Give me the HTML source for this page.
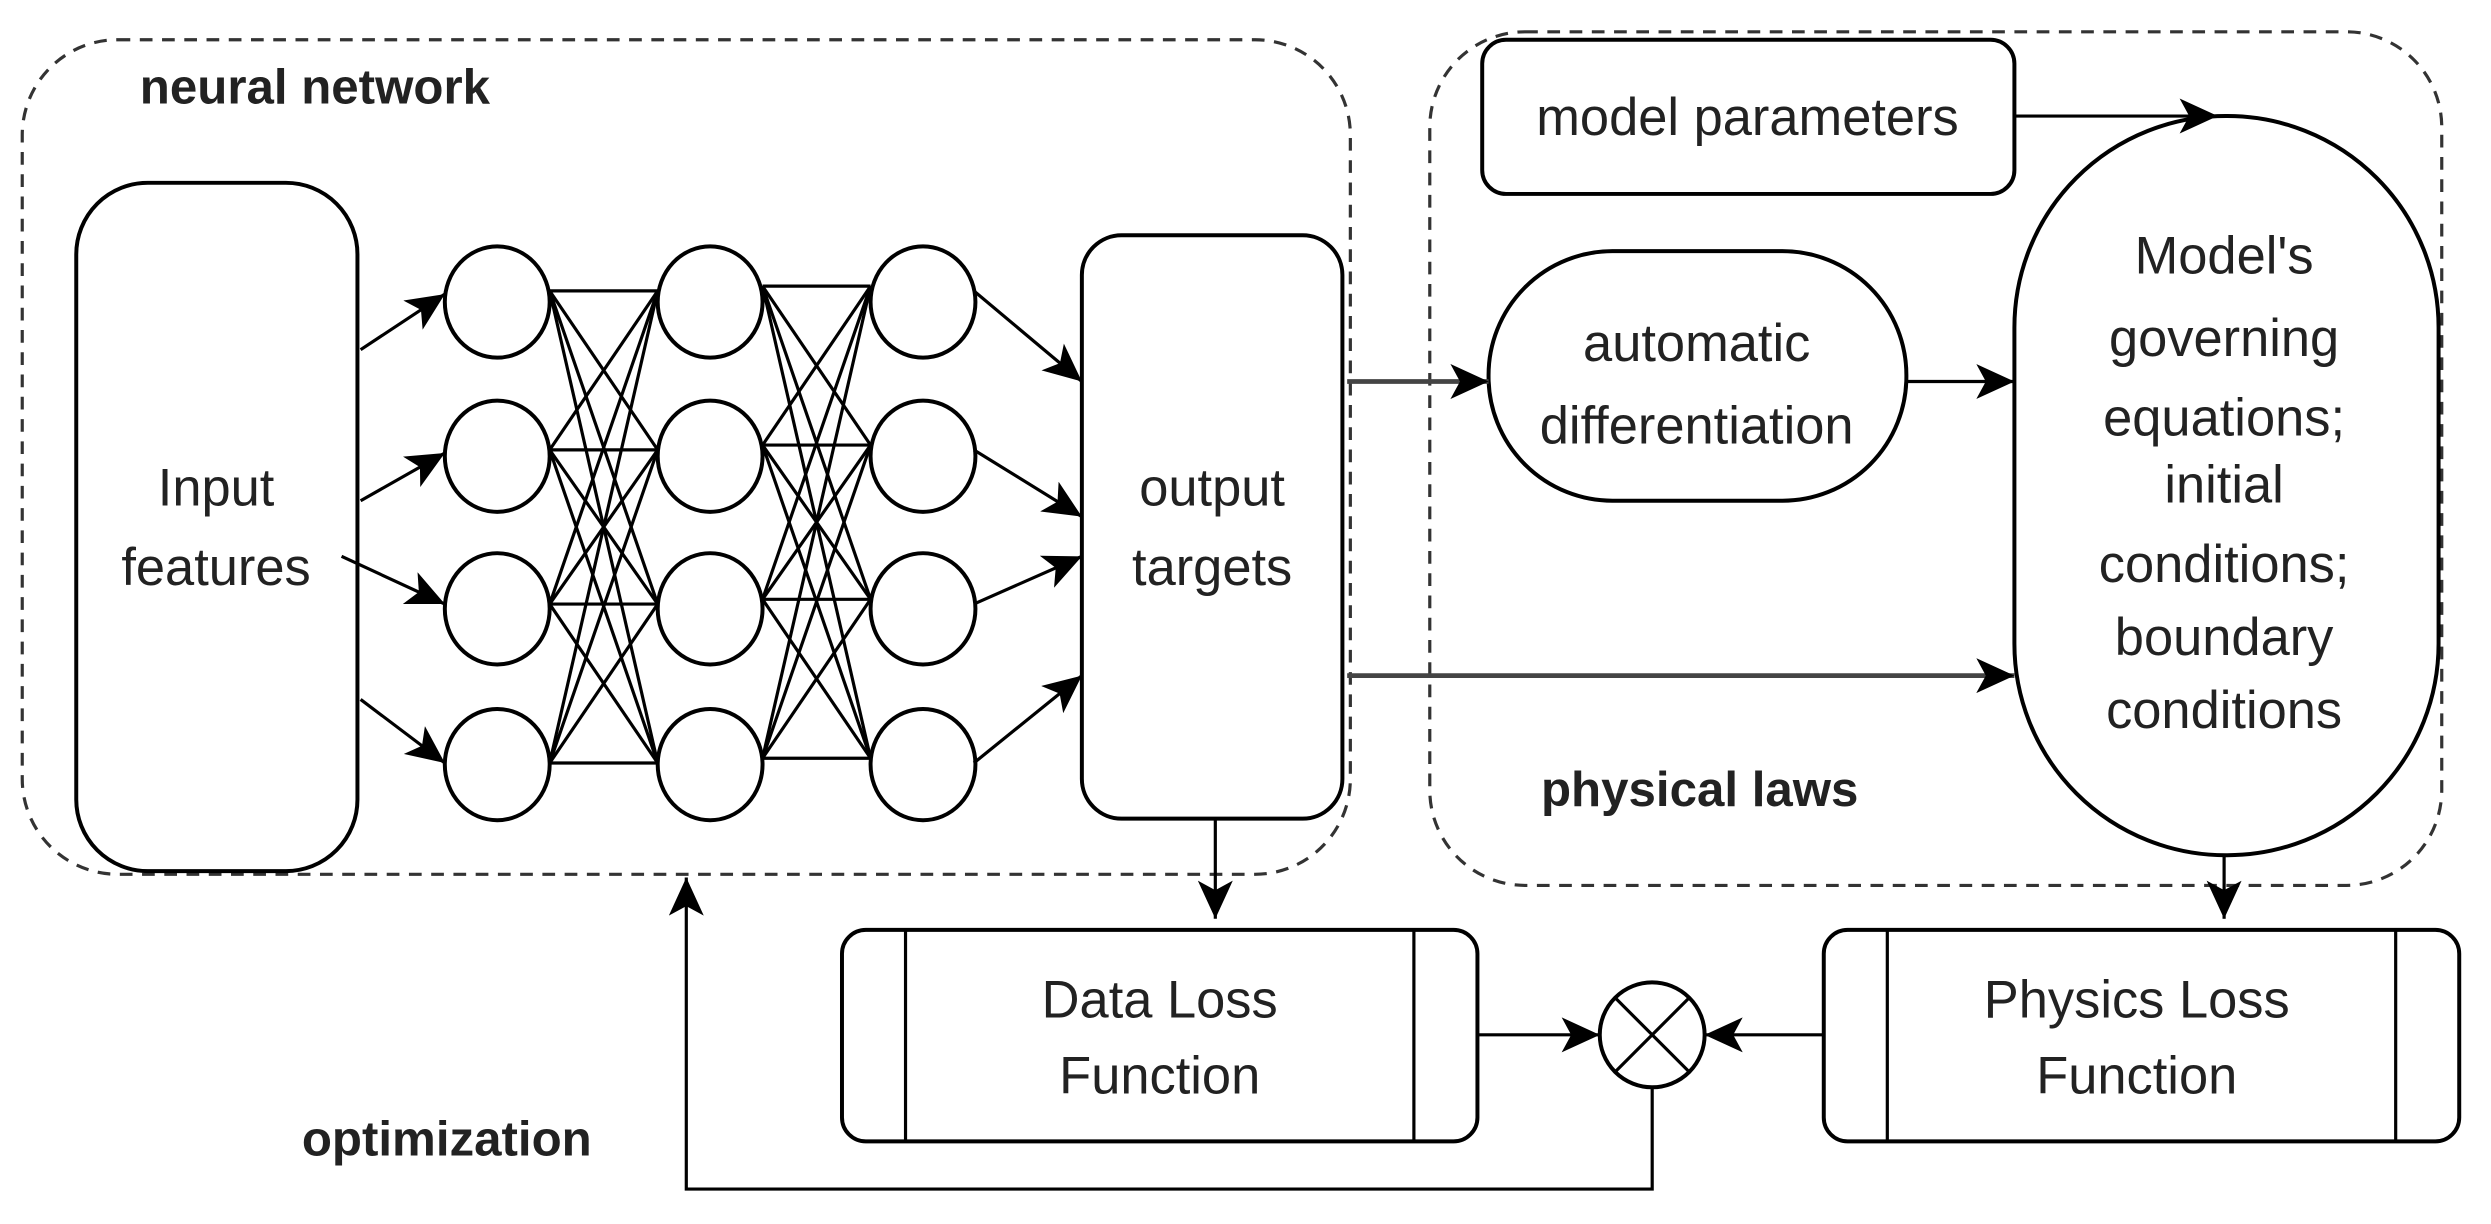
<!DOCTYPE html>
<html><head><meta charset="utf-8"><style>html,body{margin:0;padding:0;background:#fff}svg{display:block}</style></head>
<body>
<svg width="2491" height="1224" viewBox="0 0 1568 770" preserveAspectRatio="none" xmlns="http://www.w3.org/2000/svg" font-family="Liberation Sans, sans-serif">
<defs>
<marker id="b" markerWidth="26" markerHeight="22" refX="24" refY="11" orient="auto" markerUnits="userSpaceOnUse"><path d="M0,0 L24,11 L0,22 L6,11 z" fill="#000"/></marker>
</defs>
<g fill="none" stroke="#000">
<rect x="14" y="25" width="836" height="525" rx="60" stroke-dasharray="8,6" stroke-width="2" stroke="#333"/>
<rect x="900" y="20" width="637" height="537" rx="60" stroke-dasharray="8,6" stroke-width="2" stroke="#333"/>
<rect x="48" y="115" width="177" height="433" rx="45" stroke-width="2.5"/>
<rect x="681" y="148" width="164" height="367" rx="25" stroke-width="2.5"/>
<rect x="933" y="25" width="335" height="97" rx="15" stroke-width="2.5"/>
<rect x="937" y="158" width="263" height="157" rx="78" stroke-width="2.5"/>
<rect x="1268" y="73" width="267" height="465" rx="133" stroke-width="2.5"/>
<rect x="530" y="585" width="400" height="133" rx="15" stroke-width="2.5"/>
<line x1="570" y1="585" x2="570" y2="718" stroke-width="2"/><line x1="890" y1="585" x2="890" y2="718" stroke-width="2"/>
<rect x="1148" y="585" width="400" height="133" rx="15" stroke-width="2.5"/>
<line x1="1188" y1="585" x2="1188" y2="718" stroke-width="2"/><line x1="1508" y1="585" x2="1508" y2="718" stroke-width="2"/>
<circle cx="1040" cy="651" r="33" stroke-width="2.5"/>
<line x1="1017" y1="628" x2="1063" y2="674" stroke-width="2"/><line x1="1063" y1="628" x2="1017" y2="674" stroke-width="2"/>
<g stroke-width="2">
<g id="c1">
<line x1="346" y1="183" x2="414" y2="183"/><line x1="346" y1="183" x2="414" y2="283"/><line x1="346" y1="183" x2="414" y2="380"/><line x1="346" y1="183" x2="414" y2="480"/>
<line x1="346" y1="283" x2="414" y2="183"/><line x1="346" y1="283" x2="414" y2="283"/><line x1="346" y1="283" x2="414" y2="380"/><line x1="346" y1="283" x2="414" y2="480"/>
<line x1="346" y1="380" x2="414" y2="183"/><line x1="346" y1="380" x2="414" y2="283"/><line x1="346" y1="380" x2="414" y2="380"/><line x1="346" y1="380" x2="414" y2="480"/>
<line x1="346" y1="480" x2="414" y2="183"/><line x1="346" y1="480" x2="414" y2="283"/><line x1="346" y1="480" x2="414" y2="380"/><line x1="346" y1="480" x2="414" y2="480"/>
</g>
<use href="#c1" transform="translate(134,-3)"/>
</g>
<g stroke-width="2.5" fill="#fff">
<ellipse cx="313" cy="190" rx="33" ry="35"/><ellipse cx="313" cy="287" rx="33" ry="35"/><ellipse cx="313" cy="383" rx="33" ry="35"/><ellipse cx="313" cy="481" rx="33" ry="35"/>
<ellipse cx="447" cy="190" rx="33" ry="35"/><ellipse cx="447" cy="287" rx="33" ry="35"/><ellipse cx="447" cy="383" rx="33" ry="35"/><ellipse cx="447" cy="481" rx="33" ry="35"/>
<ellipse cx="581" cy="190" rx="33" ry="35"/><ellipse cx="581" cy="287" rx="33" ry="35"/><ellipse cx="581" cy="383" rx="33" ry="35"/><ellipse cx="581" cy="481" rx="33" ry="35"/>
</g>
<g stroke-width="2" marker-end="url(#b)">
<line x1="227" y1="220" x2="280" y2="185"/><line x1="227" y1="315" x2="280" y2="285"/><line x1="215" y1="350" x2="280" y2="380"/><line x1="227" y1="440" x2="280" y2="480"/>
<line x1="613" y1="183" x2="681" y2="240"/><line x1="613" y1="283" x2="681" y2="325"/><line x1="613" y1="380" x2="681" y2="350"/><line x1="613" y1="480" x2="681" y2="425"/>
<line x1="848" y1="240" x2="937" y2="240" stroke-width="3" stroke="#444"/>
<line x1="1200" y1="240" x2="1268" y2="240"/>
<line x1="1268" y1="73" x2="1396" y2="73"/>
<line x1="848" y1="425" x2="1268" y2="425" stroke-width="3" stroke="#444"/>
<line x1="765" y1="515" x2="765" y2="578"/>
<line x1="1400" y1="538" x2="1400" y2="578"/>
<line x1="930" y1="651" x2="1007" y2="651"/>
<line x1="1148" y1="651" x2="1073" y2="651"/>
<polyline points="1040,684 1040,748 432,748 432,552"/>
</g>
</g>
<g fill="#222" text-anchor="middle" font-size="33">
<text x="136" y="318">Input</text><text x="136" y="368">features</text>
<text x="763" y="318">output</text><text x="763" y="368">targets</text>
<text x="1100" y="85">model parameters</text>
<text x="1068" y="227">automatic</text><text x="1068" y="279">differentiation</text>
<text x="1400" y="172">Model's</text><text x="1400" y="224">governing</text><text x="1400" y="274">equations;</text><text x="1400" y="316">initial</text><text x="1400" y="366">conditions;</text><text x="1400" y="412">boundary</text><text x="1400" y="458">conditions</text>
<text x="730" y="640">Data Loss</text><text x="730" y="688">Function</text>
<text x="1345" y="640">Physics Loss</text><text x="1345" y="688">Function</text>
</g>
<g fill="#222" font-size="31" font-weight="bold">
<text x="88" y="65">neural network</text>
<text x="970" y="507">physical laws</text>
<text x="190" y="727">optimization</text>
</g>
</svg>
</body></html>
